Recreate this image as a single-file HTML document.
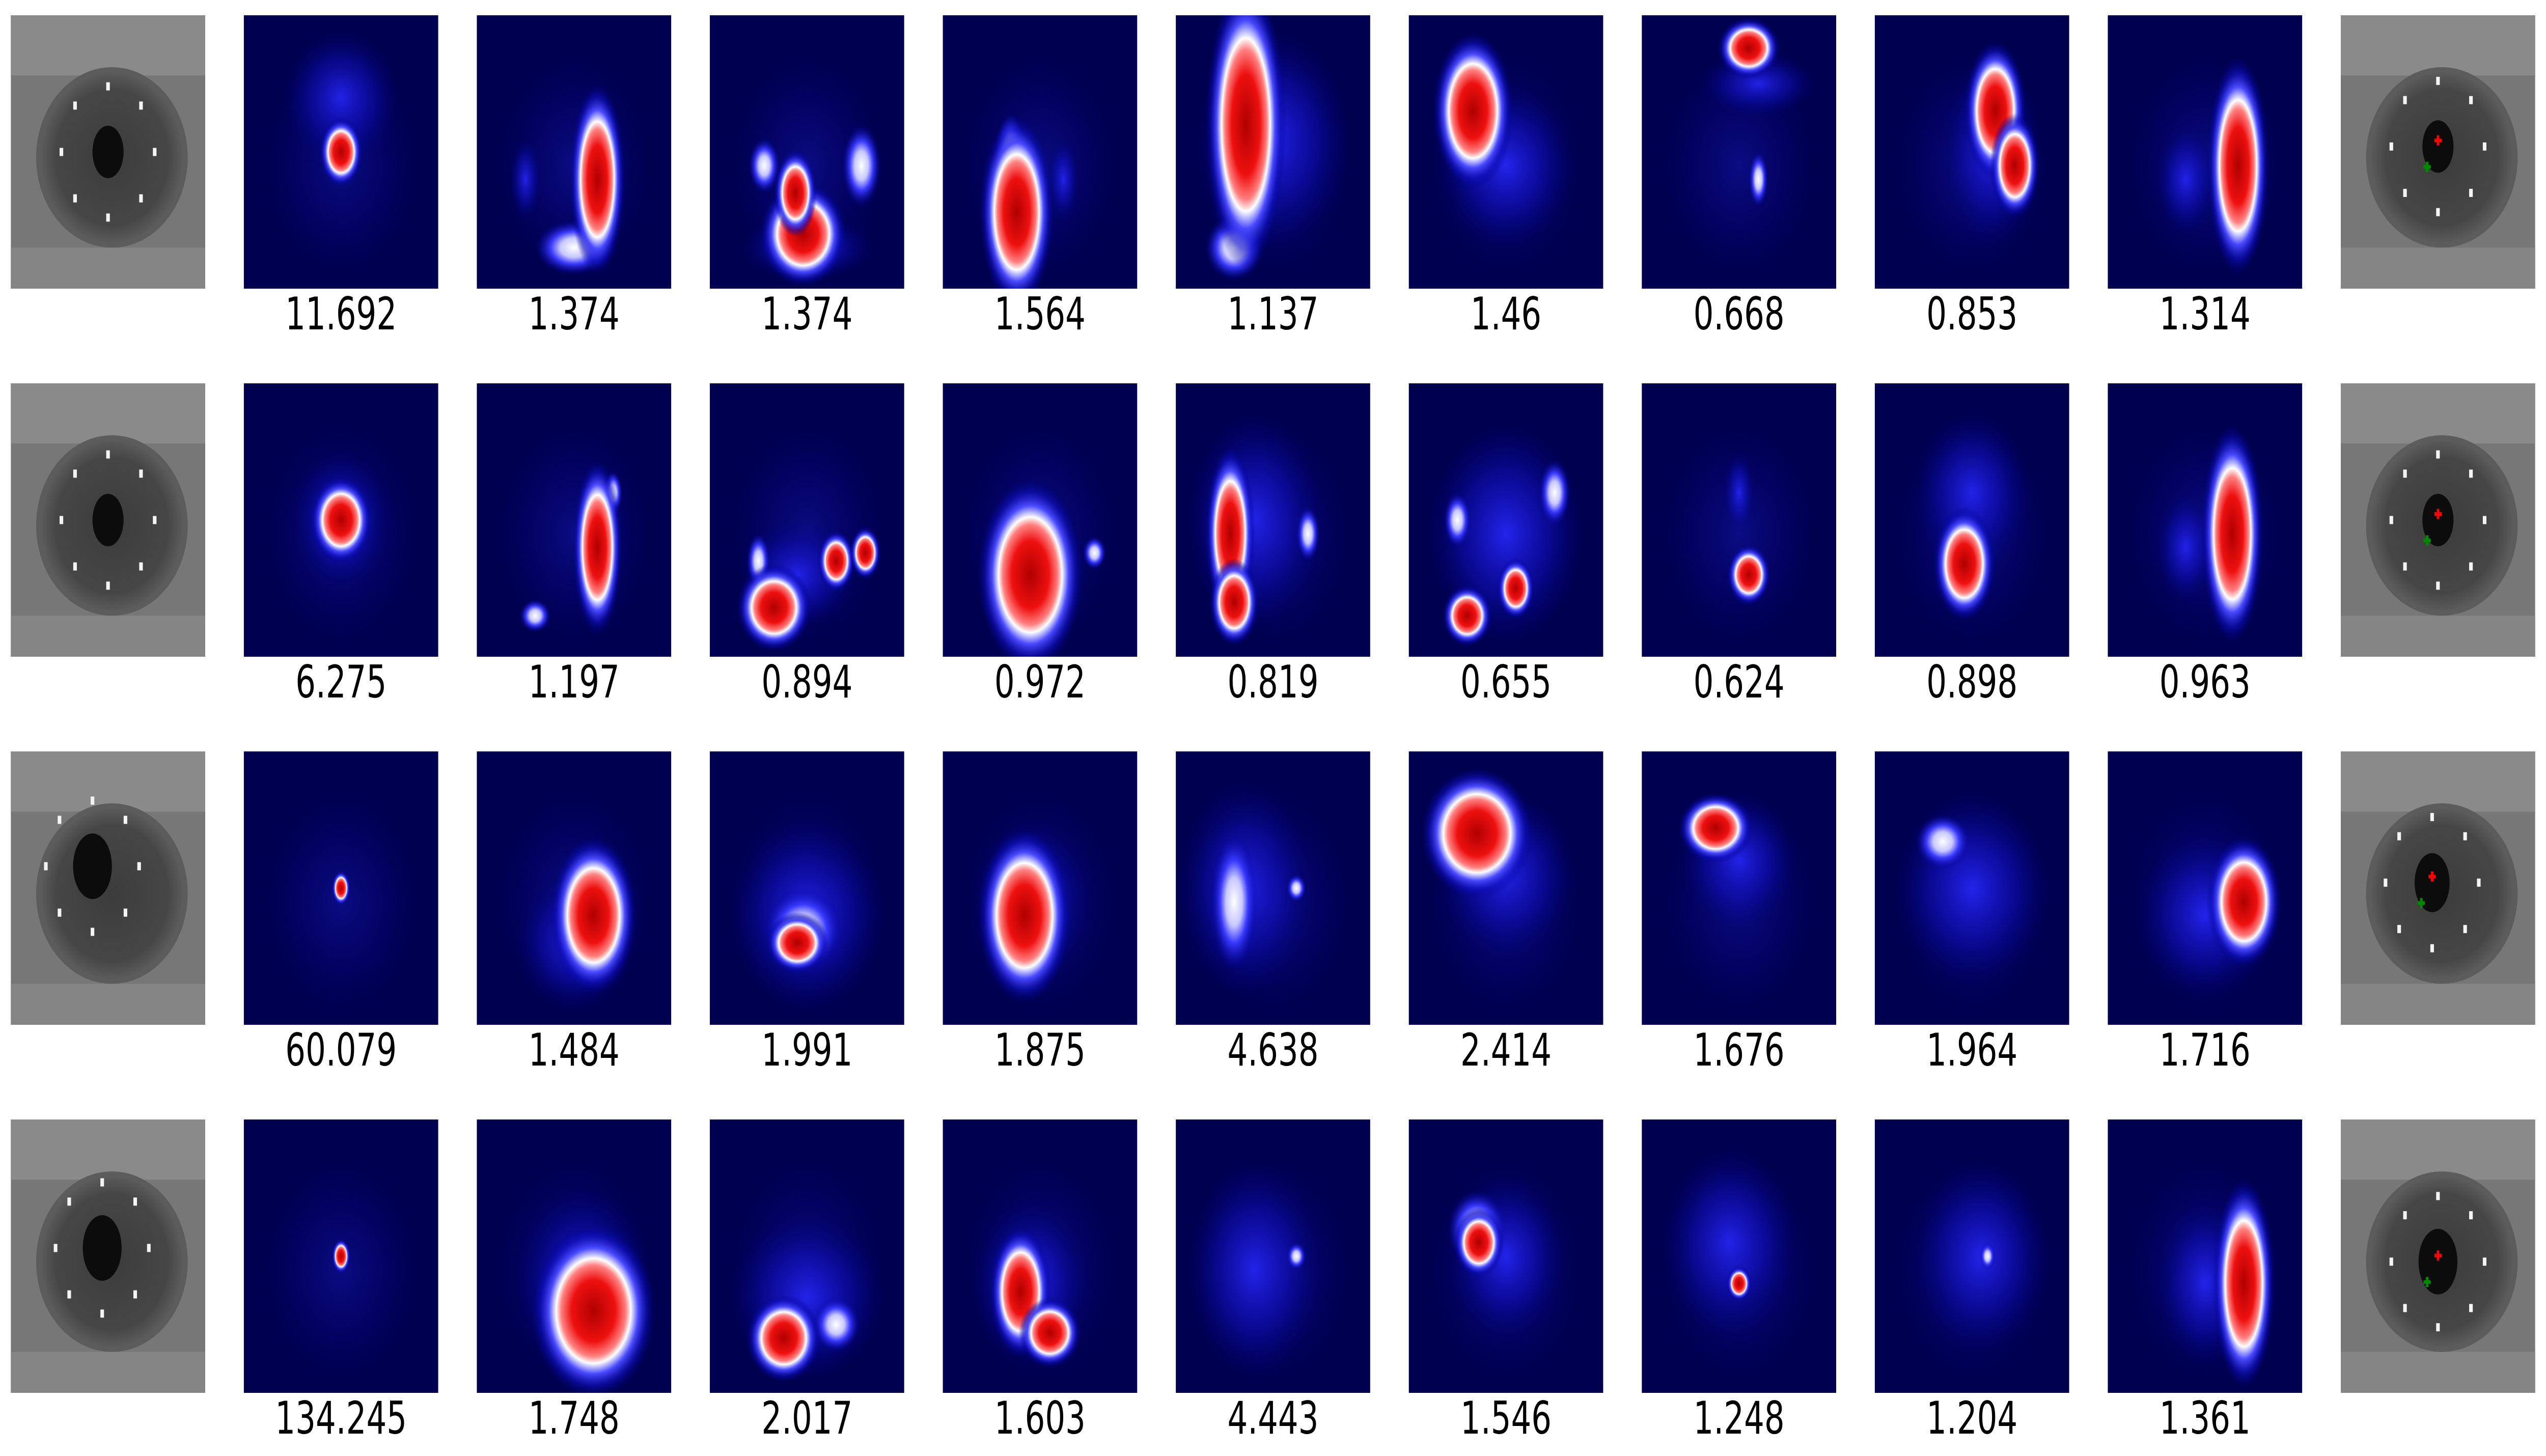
<!DOCTYPE html>
<html><head><meta charset="utf-8">
<style>
html,body{margin:0;padding:0;background:#fff;width:100%;height:100%;overflow:hidden;}
svg{display:block;width:100vw;height:100vh;}
text{font-family:"DejaVu Sans","Liberation Sans",sans-serif;}
</style></head>
<body>
<svg id="fig" viewBox="0 0 7035 2860" preserveAspectRatio="none" xmlns="http://www.w3.org/2000/svg">
<defs>
<radialGradient id="hot">
<stop offset="0" stop-color="#b00000"/>
<stop offset="0.35" stop-color="#ee1010"/>
<stop offset="0.52" stop-color="#ff8080"/>
<stop offset="0.6" stop-color="#ffffff"/>
<stop offset="0.72" stop-color="#4a4aff"/>
<stop offset="0.86" stop-color="#1010c0" stop-opacity="0.6"/>
<stop offset="1" stop-color="#000080" stop-opacity="0"/>
</radialGradient>
<radialGradient id="warm">
<stop offset="0" stop-color="#ffffff"/>
<stop offset="0.35" stop-color="#c8c8ff"/>
<stop offset="0.6" stop-color="#3a3aff"/>
<stop offset="1" stop-color="#0000a0" stop-opacity="0"/>
</radialGradient>
<radialGradient id="cool">
<stop offset="0" stop-color="#2828ff" stop-opacity="0.85"/>
<stop offset="0.55" stop-color="#1010c0" stop-opacity="0.5"/>
<stop offset="1" stop-color="#000080" stop-opacity="0"/>
</radialGradient>
<radialGradient id="irisG">
<stop offset="0" stop-color="#3c3c3c"/>
<stop offset="0.8" stop-color="#464646"/>
<stop offset="1" stop-color="#5a5a5a"/>
</radialGradient>
</defs>
<g id="panels"></g>
</svg>
<script>
// values printed under each heatmap, by row
const scoresRow1 = ["11.692","1.374","1.374","1.564","1.137","1.46","0.668","0.853","1.314"];
const scoresRow2 = ["6.275","1.197","0.894","0.972","0.819","0.655","0.624","0.898","0.963"];
const scoresRow3 = ["60.079","1.484","1.991","1.875","4.638","2.414","1.676","1.964","1.716"];
const scoresRow4 = ["134.245","1.748","2.017","1.603","4.443","1.546","1.248","1.204","1.361"];
const scores = [scoresRow1, scoresRow2, scoresRow3, scoresRow4];
// blobs per heatmap: [cx, cy, rx, ry, level] in panel fractions; level 2=hot,1=warm,0=cool
const blobsRow1 = [
 [[0.5,0.5,0.07,0.08,2],[0.5,0.3,0.3,0.25,0]],
 [[0.62,0.6,0.09,0.22,2],[0.5,0.85,0.2,0.1,1],[0.25,0.6,0.08,0.15,0]],
 [[0.48,0.8,0.14,0.12,2],[0.44,0.65,0.07,0.1,2],[0.28,0.55,0.08,0.1,1],[0.78,0.55,0.1,0.15,1],[0.5,0.85,0.35,0.12,0]],
 [[0.38,0.72,0.12,0.22,2],[0.35,0.5,0.08,0.14,1],[0.62,0.6,0.08,0.15,0]],
 [[0.36,0.4,0.13,0.33,2],[0.3,0.85,0.15,0.12,1],[0.5,0.45,0.4,0.4,0]],
 [[0.33,0.35,0.13,0.18,2],[0.5,0.55,0.35,0.3,0]],
 [[0.55,0.12,0.1,0.07,2],[0.6,0.25,0.3,0.12,0],[0.6,0.6,0.05,0.1,1]],
 [[0.62,0.35,0.1,0.16,2],[0.72,0.55,0.08,0.12,2],[0.6,0.5,0.25,0.35,0]],
 [[0.67,0.55,0.1,0.25,2],[0.4,0.6,0.15,0.2,0]]
];
const blobsRow2 = [
 [[0.5,0.5,0.1,0.1,2],[0.5,0.5,0.25,0.25,0]],
 [[0.62,0.6,0.08,0.2,2],[0.3,0.85,0.08,0.06,1],[0.7,0.4,0.05,0.08,1]],
 [[0.33,0.82,0.12,0.1,2],[0.25,0.65,0.06,0.1,1],[0.65,0.65,0.06,0.07,2],[0.8,0.62,0.05,0.06,2],[0.45,0.7,0.3,0.2,0]],
 [[0.45,0.7,0.17,0.22,2],[0.78,0.62,0.06,0.06,1]],
 [[0.28,0.55,0.08,0.2,2],[0.3,0.8,0.08,0.1,2],[0.68,0.55,0.06,0.1,1],[0.4,0.5,0.35,0.4,0]],
 [[0.3,0.85,0.08,0.07,2],[0.25,0.5,0.07,0.1,1],[0.55,0.75,0.06,0.07,2],[0.75,0.4,0.08,0.12,1],[0.5,0.55,0.4,0.4,0]],
 [[0.55,0.7,0.07,0.07,2],[0.5,0.4,0.08,0.15,0]],
 [[0.46,0.66,0.1,0.13,2],[0.5,0.4,0.3,0.3,0]],
 [[0.64,0.55,0.1,0.25,2],[0.4,0.6,0.15,0.2,0]]
];
const blobsRow3 = [
 [[0.5,0.5,0.03,0.04,2]],
 [[0.6,0.6,0.14,0.18,2],[0.5,0.7,0.3,0.25,0]],
 [[0.48,0.65,0.2,0.15,1],[0.45,0.7,0.1,0.07,2],[0.5,0.6,0.4,0.35,0]],
 [[0.42,0.6,0.15,0.2,2],[0.45,0.55,0.3,0.3,0]],
 [[0.3,0.55,0.12,0.25,1],[0.35,0.5,0.35,0.4,0],[0.62,0.5,0.05,0.05,1]],
 [[0.35,0.3,0.18,0.15,2],[0.5,0.45,0.35,0.3,0]],
 [[0.38,0.28,0.12,0.08,2],[0.5,0.4,0.3,0.25,0]],
 [[0.35,0.33,0.14,0.1,1],[0.5,0.5,0.4,0.35,0]],
 [[0.7,0.55,0.12,0.15,2],[0.5,0.6,0.35,0.3,0]]
];
const blobsRow4 = [
 [[0.5,0.5,0.03,0.04,2]],
 [[0.6,0.7,0.2,0.2,2],[0.55,0.6,0.35,0.35,0]],
 [[0.38,0.8,0.12,0.1,2],[0.65,0.75,0.12,0.1,1],[0.5,0.65,0.4,0.3,0]],
 [[0.4,0.63,0.1,0.15,2],[0.55,0.78,0.1,0.08,2],[0.45,0.6,0.3,0.3,0]],
 [[0.4,0.55,0.35,0.4,0],[0.62,0.5,0.05,0.05,1]],
 [[0.35,0.4,0.15,0.14,1],[0.36,0.45,0.08,0.08,2],[0.5,0.5,0.3,0.3,0]],
 [[0.45,0.45,0.35,0.35,0],[0.5,0.6,0.04,0.04,2]],
 [[0.55,0.5,0.35,0.35,0],[0.58,0.5,0.04,0.05,1]],
 [[0.7,0.6,0.1,0.24,2],[0.5,0.6,0.25,0.3,0]]
];
const blobs = [blobsRow1, blobsRow2, blobsRow3, blobsRow4];
// eye pupil positions (fractions) for left/right eye images per row
const pupilsLeft = [[0.5,0.5,0.08],[0.5,0.5,0.08],[0.42,0.42,0.1],[0.47,0.47,0.1]];
const pupilsRight = [[0.5,0.48,0.08],[0.5,0.5,0.08],[0.47,0.48,0.09],[0.5,0.52,0.1]];

const NS = "http://www.w3.org/2000/svg";
const X0 = 30, Y0 = 30, DX = 643.8, DY = 723, S = 537;
const root = document.getElementById('panels');
function mk(tag, attrs, parent){
  const e = document.createElementNS(NS, tag);
  for (const k in attrs) e.setAttribute(k, attrs[k]);
  parent.appendChild(e);
  return e;
}
function eye(g, x, y, p, withMarks){
  mk('rect',{x:x,y:y,width:S,height:S,fill:'#777'},g);
  mk('rect',{x:x,y:y,width:S,height:S*0.22,fill:'#8a8a8a'},g);
  mk('rect',{x:x,y:y+S*0.85,width:S,height:S*0.15,fill:'#858585'},g);
  mk('ellipse',{cx:x+S*0.52,cy:y+S*0.52,rx:S*0.39,ry:S*0.33,fill:'#5c5c5c'},g);
  mk('ellipse',{cx:x+S*0.52,cy:y+S*0.52,rx:S*0.36,ry:S*0.31,fill:'url(#irisG)'},g);
  const px = x+S*p[0], py = y+S*p[1], r = S*p[2];
  mk('ellipse',{cx:px,cy:py,rx:r,ry:r*1.2,fill:'#0c0c0c'},g);
  for (let k=0;k<8;k++){
    const a = k/8*2*Math.PI;
    mk('rect',{x:px+Math.cos(a)*S*0.24-5,y:py+Math.sin(a)*S*0.24-8,width:10,height:16,fill:'#f4f4f4'},g);
  }
  if (withMarks){
    mk('path',{d:`M${px-10} ${py-12}h20M${px} ${py-22}v20`,stroke:'#f00',"stroke-width":7},g);
    mk('path',{d:`M${px-40} ${py+40}h20M${px-30} ${py+30}v20`,stroke:'#080',"stroke-width":7},g);
  }
}
for (let r=0;r<4;r++){
  const y = Y0 + r*DY;
  const gl = mk('g',{},root);
  
  
  eye(gl, X0, y, pupilsLeft[r], false);
  for (let c=0;c<9;c++){
    const x = X0 + (c+1)*DX;
    const g = mk('g',{},root);
    
    
    mk('rect',{x:x,y:y,width:S,height:S,fill:'#000050'},g);
    const cp = mk('clipPath',{id:'cp'+r+'_'+c},g);
    mk('rect',{x:x,y:y,width:S,height:S},cp);
    const inner = mk('g',{'clip-path':'url(#cp'+r+'_'+c+')'},g);
    mk('ellipse',{cx:x+S*0.5,cy:y+S*0.55,rx:S*0.42,ry:S*0.42,fill:'url(#cool)',opacity:0.35},inner);
    const list = blobs[r][c].slice().sort((a,b)=>a[4]-b[4]);
    for (const b of list){
      const fill = b[4]===2?'url(#hot)':(b[4]===1?'url(#warm)':'url(#cool)');
      const e = mk('ellipse',{cx:x+b[0]*S,cy:y+b[1]*S,rx:b[2]*S*(b[4]===2?1.6:1),ry:b[3]*S*(b[4]===2?1.6:1),fill:fill},inner);
      
      
    }
    const t = mk('text',{x:x+S/2,y:y+S+80,'text-anchor':'middle','font-size':88,fill:'#000'},g);
    t.textContent = scores[r][c];
    
    
  }
  const gr = mk('g',{},root);
  
  
  eye(gr, X0+10*DX, y, pupilsRight[r], true);
}
</script>
</body></html>
